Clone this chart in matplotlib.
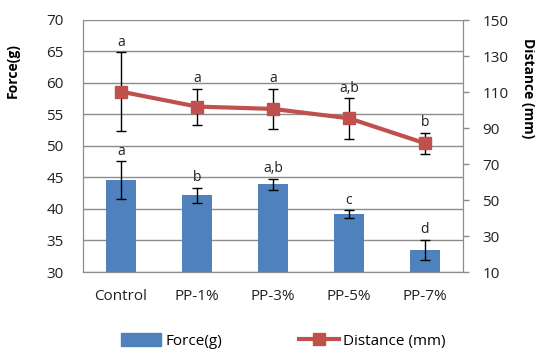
import numpy as np
import matplotlib
matplotlib.use("Agg")
import matplotlib.pyplot as plt
from matplotlib.lines import Line2D
from matplotlib.patches import Patch

plt.rcParams['font.family'] = ['Open Sans', 'DejaVu Sans']

categories = ["Control", "PP-1%", "PP-3%", "PP-5%", "PP-7%"]
force = [44.6, 42.2, 43.9, 39.2, 33.5]
force_err = [3.0, 1.2, 0.9, 0.6, 1.6]
force_letters = ["a", "b", "a,b", "c", "d"]
distance = [110.2, 101.9, 100.6, 95.4, 81.5]
distance_err = [21.8, 10.0, 11.3, 11.3, 6.0]
distance_letters = ["a", "a", "a", "a,b", "b"]

bar_color = "#4f81bd"
line_color = "#c0504d"
grid_color = "#8c8c8c"
text_color = "#222222"

fig = plt.figure(figsize=(5.35, 3.49), dpi=100)
ax = fig.add_axes([83 / 535, 1 - 272 / 349, 380 / 535, 252 / 349])
ax2 = ax.twinx()

x = np.arange(len(categories))

# bars on the force axis
ax.bar(x, force, width=0.39, color=bar_color, zorder=2)
ax.errorbar(x, force, yerr=force_err, fmt="none", ecolor="black",
            elinewidth=1, capsize=3.5, capthick=1, zorder=3)
for xi, v, e, lab in zip(x, force, force_err, force_letters):
    ax.text(xi, v + e + 0.4, lab, ha="center", va="bottom", fontsize=10, color=text_color)

ax.set_ylim(30, 70)
ax.set_yticks(np.arange(30, 71, 5))
ax.set_xlim(-0.5, 4.5)
ax.set_xticks(x)
ax.set_xticklabels(categories)
ax.yaxis.grid(True, color=grid_color, linewidth=1)
ax.set_axisbelow(True)
ax.tick_params(axis="both", length=0, labelsize=11, colors=text_color)
ax.tick_params(axis="y", pad=14)
ax.tick_params(axis="x", pad=12)
ax.set_ylabel("Force(g)", fontsize=10, fontweight="bold")
ax.yaxis.set_label_coords(-0.166, 0.80)

# line on the distance axis
ax2.errorbar(x, distance, yerr=distance_err, fmt="none", ecolor="black",
             elinewidth=1, capsize=3.5, capthick=1, zorder=3)
ax2.plot(x, distance, color=line_color, linewidth=3, marker="s",
         markersize=9, zorder=4)
for xi, v, e, lab in zip(x, distance, distance_err, distance_letters):
    ax2.text(xi, v + e + 1.2, lab, ha="center", va="bottom", fontsize=10, color=text_color)

ax2.set_ylim(10, 150)
ax2.set_yticks(np.arange(10, 151, 20))
ax2.tick_params(axis="y", length=4, width=1, color=grid_color, labelsize=11,
                labelcolor=text_color, pad=10)
ax2.set_ylabel("Distance (mm)", fontsize=10, fontweight="bold", rotation=-90, va="center")
ax2.yaxis.set_label_coords(1.171, 0.73)

for a in (ax, ax2):
    for s in a.spines.values():
        s.set_color(grid_color)
    a.spines["top"].set_visible(False)

handles = [Patch(color=bar_color),
           Line2D([0], [0], color=line_color, linewidth=3, marker="s", markersize=9)]
fig.legend(handles, ["Force(g)", "Distance (mm)"], loc="center",
           bbox_to_anchor=(0.53, 1 - 341 / 349), ncol=2, frameon=False,
           fontsize=11, handlelength=2.6, handleheight=0.9,
           columnspacing=5.0, handletextpad=0.3)

fig.savefig("out.png", dpi=100)
